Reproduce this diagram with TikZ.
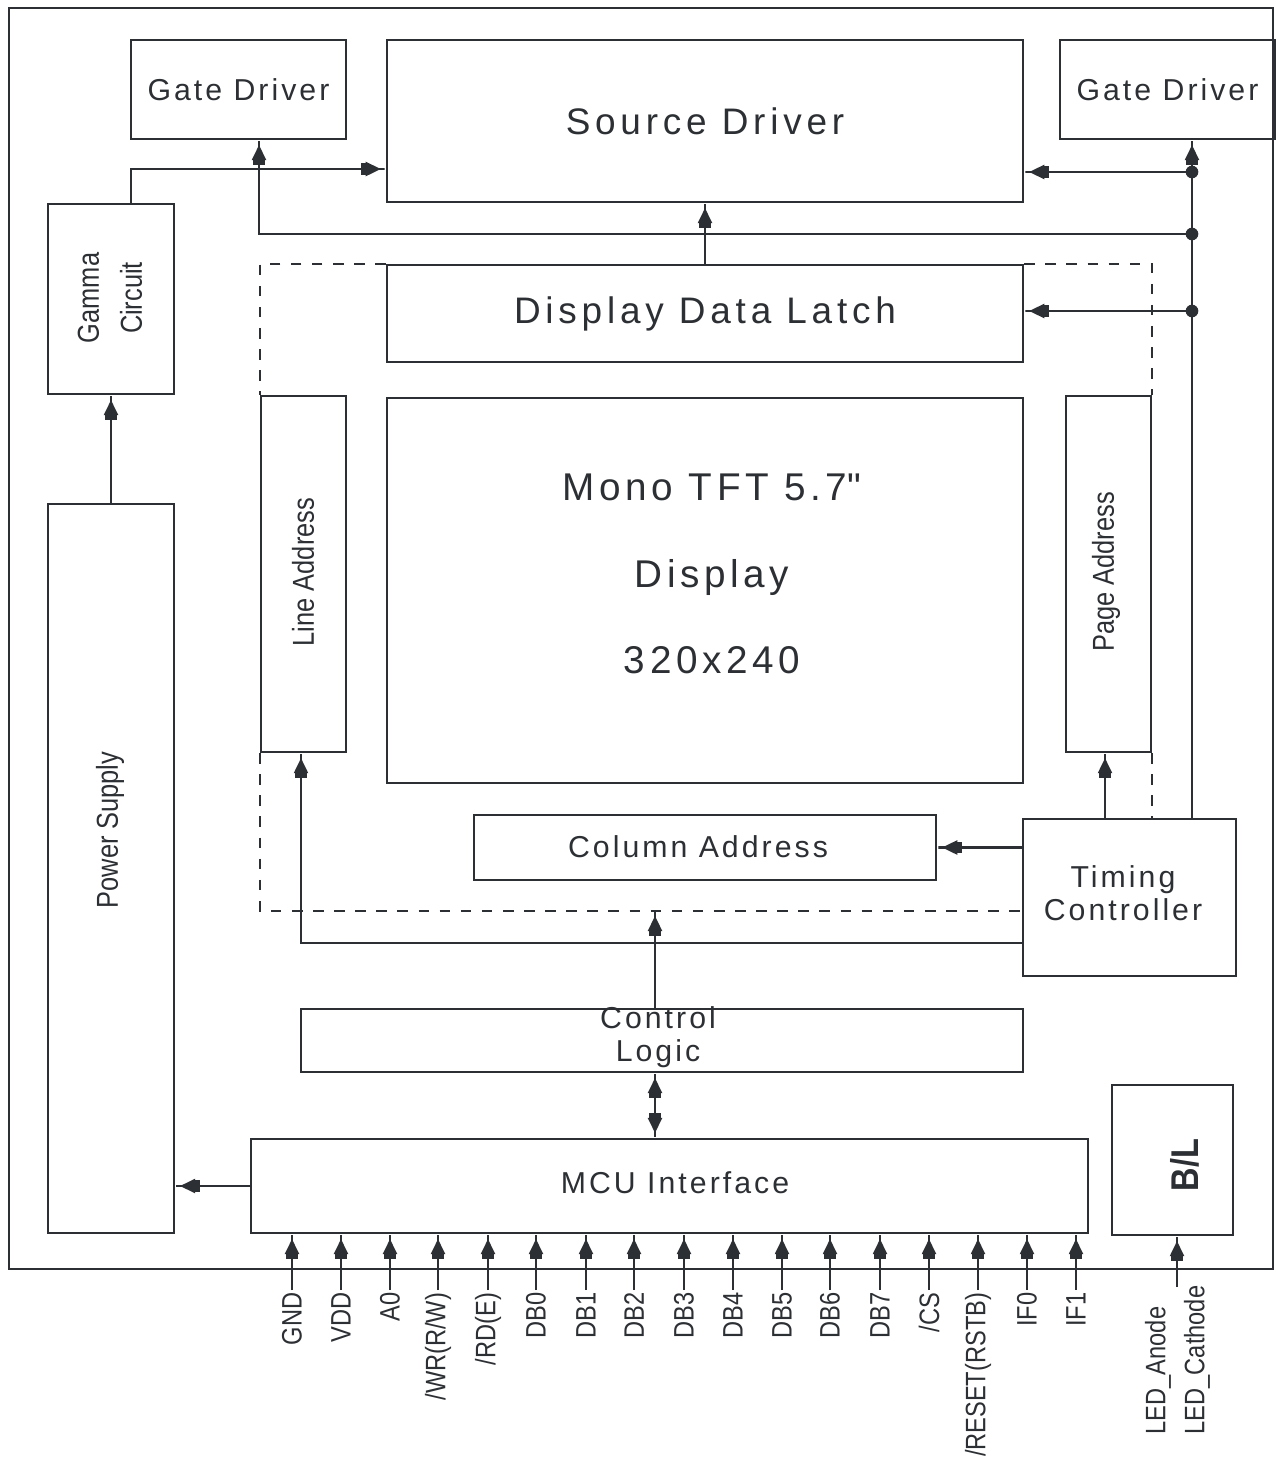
\documentclass[tikz,border=0pt]{standalone}
\usepackage{fontspec}
\setmainfont{Liberation Sans}
\newfontfamily\narrowsf[FakeStretch=0.84]{Liberation Sans}
\usetikzlibrary{arrows.meta}
\definecolor{ink}{RGB}{44,47,51}
\newcommand{\wide}[1]{\addfontfeatures{LetterSpace=#1}}

\begin{document}
\begin{tikzpicture}[x=0.01cm, y=-0.01cm, line width=0.6pt, color=ink,
  blk/.style={draw, rectangle, inner sep=0pt, align=center},
  big/.style={font={\fontsize{10.5}{12}\selectfont\wide{13}}},
  mid/.style={font={\fontsize{8.6}{9.4}\selectfont\wide{10}}},
  side/.style={rotate=90, align=center, font={\fontsize{8.6}{12.2}\selectfont\narrowsf}},
  pinlbl/.style={rotate=90, inner sep=0.5pt, font={\fontsize{8}{9}\selectfont\narrowsf}},
  arr/.style={-{Rectangle[length=1.4pt,width=3.4pt]Triangle[length=4.3pt,width=4pt]Rectangle[length=1.4pt,width=0.6pt]}},
  dot/.style={circle, fill, inner sep=0pt, minimum size=3.6pt}]
  \useasboundingbox (0,0) rectangle (1275,1458);
  \draw (9,8) rectangle (1273,1269);

  % blocks
  \node[blk, mid, minimum width=2.15cm, minimum height=.99cm] (gdl) at (238.5,89.5) {Gate Driver};
  \node[blk, big, minimum width=6.36cm, minimum height=1.62cm] (src) at (705,121) {Source Driver};
  \node[blk, mid, minimum width=2.15cm, minimum height=.99cm] (gdr) at (1167.5,89.5) {Gate Driver};
  \node[blk, minimum width=1.26cm, minimum height=1.90cm] (gam) at (111,299) {};
  \node[side] (gamtxt) at (110,298) {Gamma\\Circuit};
  \node[blk, big, minimum width=6.36cm, minimum height=.97cm] (ddl) at (705,313.5) {Display Data Latch};
  \node[blk, minimum width=.85cm, minimum height=3.56cm] (lin) at (303.5,574) {};
  \node[side] (lintxt) at (303,572) {Line Address};
  \node[blk, minimum width=6.36cm, minimum height=3.85cm] (tft) at (705,590.5) {};
  \node[align=center, font={\fontsize{11}{24.5}\selectfont\wide{12}}] (tfttxt) at (712,574)
    {Mono TFT 5.7\textquotedbl\\Display\\320x240};
  \node[blk, minimum width=.85cm, minimum height=3.56cm] (pag) at (1108.5,574) {};
  \node[side] (pagtxt) at (1106,572) {Page Address};
  \node[blk, minimum width=4.62cm, minimum height=.65cm] (col) at (705,847.5) {};
  \node[mid] (coltxt) at (698,847) {Column Address};
  \node[blk, minimum width=2.13cm, minimum height=1.57cm] (tim) at (1129.5,897.5) {};
  \node[mid, align=center] (timtxt) at (1123,893) {Timing\\Controller};
  \node[blk, minimum width=7.22cm, minimum height=.63cm] (ctl) at (662,1040.5) {};
  \node[mid, align=center] (ctltxt) at (658,1037) {Control\\Logic};
  \node[blk, minimum width=8.37cm, minimum height=.94cm] (mcu) at (669.5,1186) {};
  \node[mid] (mcutxt) at (675,1183) {MCU Interface};
  \node[blk, minimum width=1.26cm, minimum height=7.29cm] (pwr) at (111,868.5) {};
  \node[side] (pwrtxt) at (110,830) {Power Supply};
  \node[blk, minimum width=1.21cm, minimum height=1.5cm] (bl) at (1172.5,1160) {};
  \node[rotate=90, font={\fontsize{11}{12}\selectfont\narrowsf\bfseries}] (bltxt) at (1185,1165) {B/L};

  % dashed frame round the panel
  \coordinate (dbot) at (655,911);
  \draw[dashed] (ddl.north west) -- (lin.west |- ddl.north) -- (lin.north west);
  \draw[dashed] (lin.south west) -- (lin.west |- dbot) -- (tim.west |- dbot);
  \draw[dashed] (ddl.north east) -- (pag.east |- ddl.north) -- (pag.north east);
  \draw[dashed] (pag.south east) -- (pag.east |- tim.north);

  % bus on the right
  \coordinate (j1) at (1192,172);
  \coordinate (j2) at (1192,234);
  \coordinate (j3) at (1192,311);
  \draw[arr] (tim.north -| j1) -- (gdr.south -| j1);
  \foreach \j in {j1,j2,j3} \node[dot] at (\j) {};
  \draw[arr] (j1) -- (src.east |- j1);
  \draw[arr] (j3) -- (ddl.east |- j3);
  \draw[arr] (j2) -| ([xshift=.205cm]gdl.south);
  \draw[arr] ([xshift=.2cm]gam.north) |- ([yshift=-.48cm]src.west);
  \draw[arr] (ddl.north) -- (src.south);

  % timing and control
  \draw[arr] (tim.west |- col.east) -- (col.east);
  \draw[arr] (tim.north -| 1105,0) -- (pag.south -| 1105,0);
  \draw[arr] ([yshift=-.455cm]tim.west) -| ([xshift=-.025cm]lin.south);
  \draw[arr] (ctl.north -| dbot) -- (dbot);
  \coordinate (cm) at (655,1105);
  \draw[arr] (cm) -- (ctl.south -| cm);
  \draw[arr] (cm) -- (mcu.north -| cm);
  \draw[arr] (mcu.west) -- (pwr.east |- mcu.west);
  \draw[arr] (pwr.north) -- (gam.south);

  % interface pins
  \foreach \x/\t [count=\i] in {292/GND, 341/VDD, 390/A0, 438/{/WR(R/W)}, 488/{/RD(E)},
      536/DB0, 586/DB1, 634/DB2, 684/DB3, 733/DB4, 782/DB5, 830/DB6, 880/DB7,
      929/{/CS}, 978/{/RESET(RSTB)}, 1027/IF0, 1076/IF1} {
    \node[pinlbl, anchor=east] (p\i) at (\x,1290) {\t};
    \draw[arr] (p\i.east) -- (p\i.east |- mcu.south);
  }
  \coordinate (ledin) at (1177,1287);
  \draw[arr] (ledin) -- (ledin |- bl.south);
  \node[pinlbl, anchor=west] (ano) at (1158,1437) {LED\_Anode};
  \node[pinlbl, anchor=west] (cat) at (1197,1437) {LED\_Cathode};
\end{tikzpicture}
\end{document}
